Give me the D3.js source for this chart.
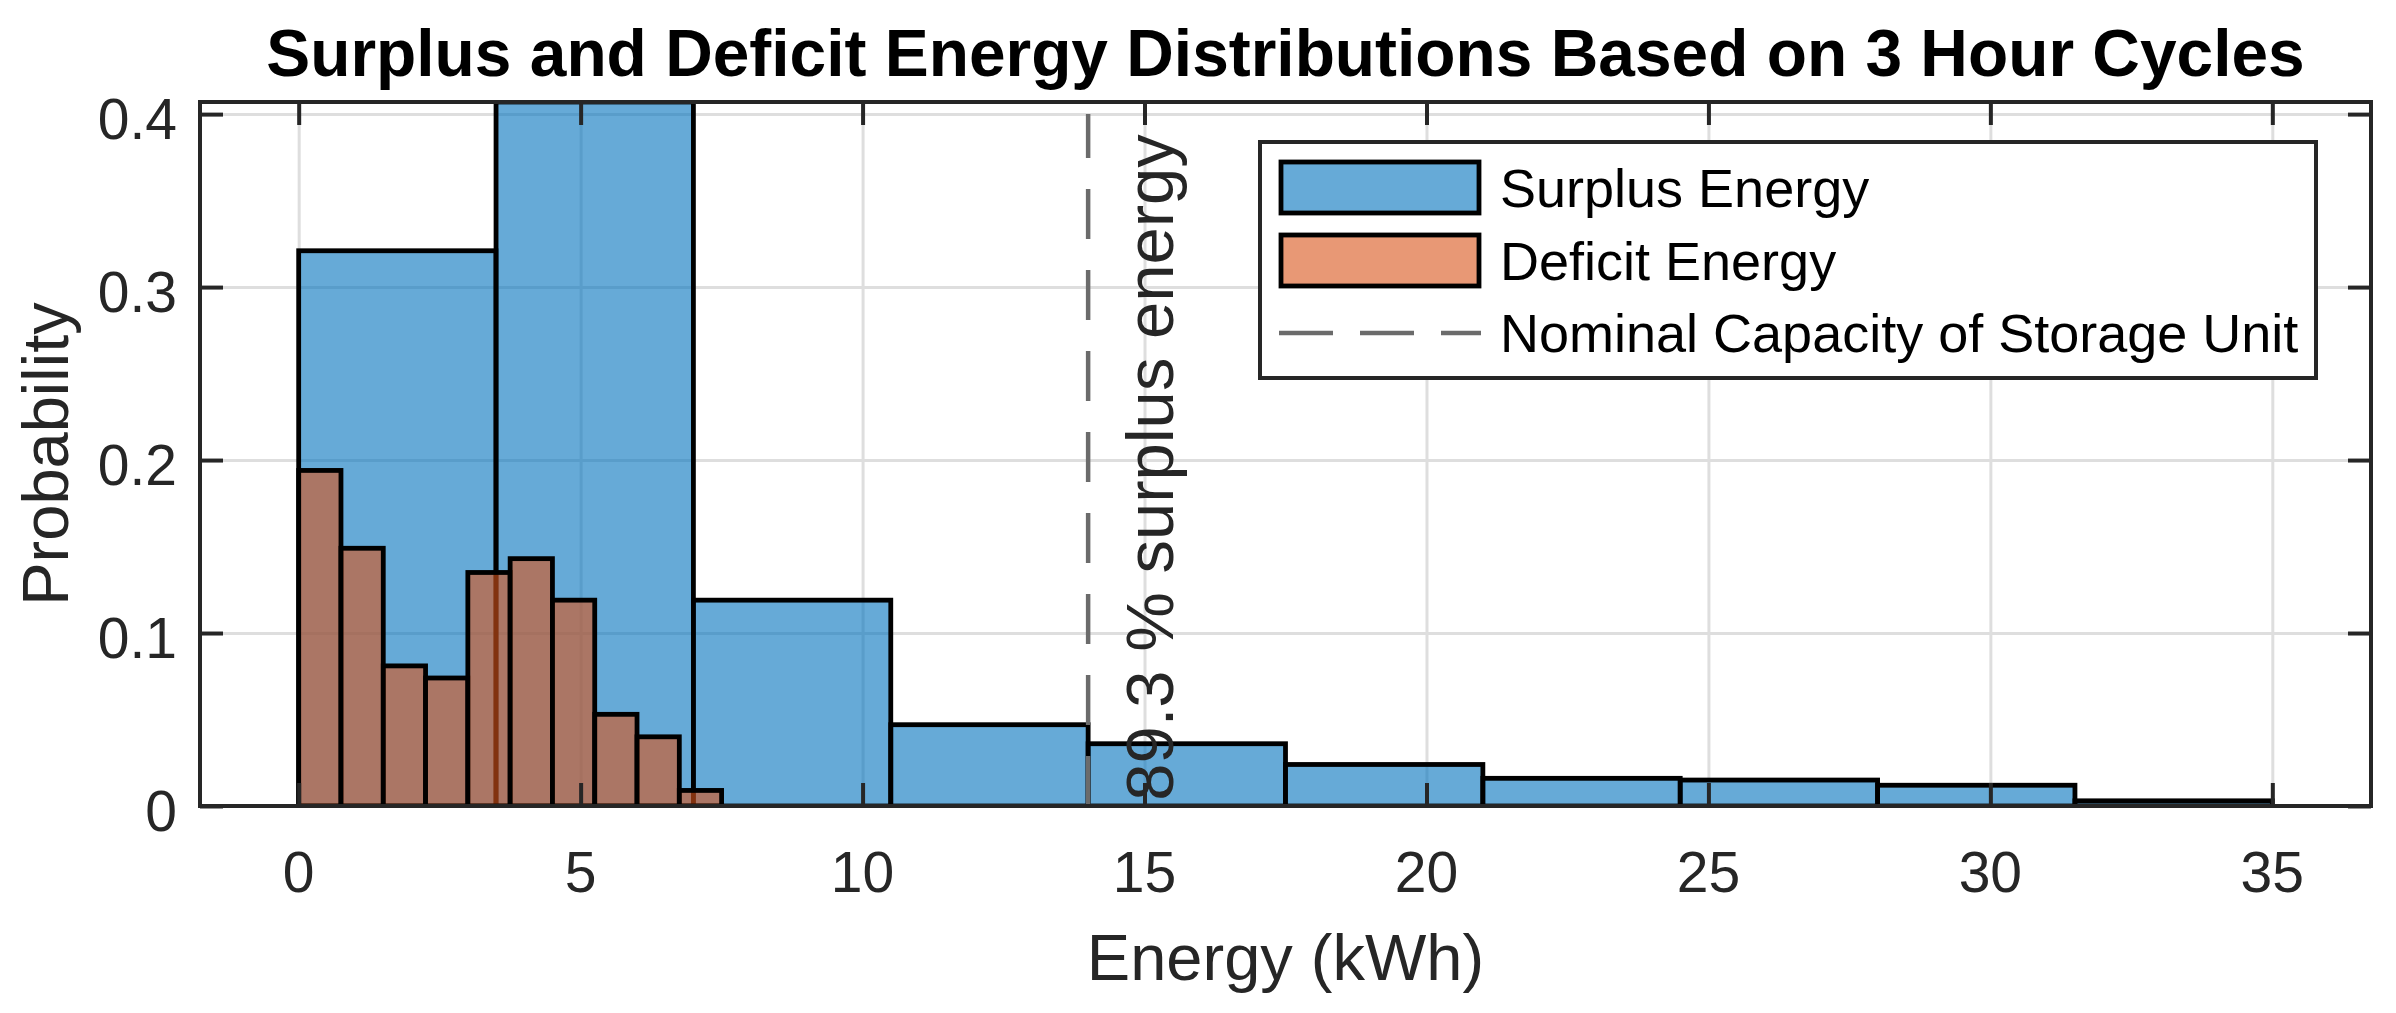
<!DOCTYPE html>
<html>
<head>
<meta charset="utf-8">
<script src="https://cdn.jsdelivr.net/npm/d3@7"></script>
<style>
  html, body { margin: 0; padding: 0; background: #fff; }
  svg { display: block; }
  text { font-family: "Liberation Sans", Arial, Helvetica, sans-serif; }
</style>
</head>
<body>
<svg id="chart" width="2396" height="1013"></svg>
<script>
// ---------------- data ----------------
const surplusEdges = [0, 3.5, 7, 10.5, 14, 17.5, 21, 24.5, 28, 31.5, 35];
const surplusProb  = [0.321, 0.407, 0.119, 0.047, 0.036, 0.024, 0.016, 0.015, 0.012, 0.003];
const deficitEdges = [0, 0.75, 1.5, 2.25, 3, 3.75, 4.5, 5.25, 6, 6.75, 7.5];
const deficitProb  = [0.194, 0.149, 0.081, 0.074, 0.135, 0.143, 0.119, 0.053, 0.040, 0.009];
const xTicks = [0, 5, 10, 15, 20, 25, 30, 35];
const yTicks = [0, 0.1, 0.2, 0.3, 0.4];
const yTickLabels = ["0", "0.1", "0.2", "0.3", "0.4"];
const nominalCapacity = 14;
const annotation = "89.3 % surplus energy";
const legendLabels = ["Surplus Energy", "Deficit Energy", "Nominal Capacity of Storage Unit"];
const titleText = "Surplus and Deficit Energy Distributions Based on 3 Hour Cycles";
const xLabel = "Energy (kWh)";
const yLabel = "Probability";

// ---------------- layout ----------------
const L = 200, R = 2371, T = 102, B = 806;
const svg = d3.select("#chart");
const x = d3.scaleLinear().domain([-1.75, 36.75]).range([L, R]);
const y = d3.scaleLinear().domain([0, 0.407]).range([B, T]);

const blue = "rgb(0,114,189)";
const orange = "rgb(217,83,25)";
const axisColor = "#262626";
const edgeW = 4.8;

svg.append("defs").append("clipPath").attr("id", "plotclip")
  .append("rect").attr("x", L).attr("y", T).attr("width", R - L).attr("height", B - T);

// grid
const gridX = svg.append("g").attr("transform", `translate(0,${B})`)
  .call(d3.axisBottom(x).tickValues(xTicks).tickSize(-(B - T)).tickFormat(""));
const gridY = svg.append("g").attr("transform", `translate(${L},0)`)
  .call(d3.axisLeft(y).tickValues(yTicks).tickSize(-(R - L)).tickFormat(""));
[gridX, gridY].forEach(g => {
  g.select(".domain").remove();
  g.selectAll("line").attr("stroke", "#dedede").attr("stroke-width", 3);
});

const plot = svg.append("g").attr("clip-path", "url(#plotclip)");

// surplus bars
plot.append("g").selectAll("rect").data(surplusProb).join("rect")
  .attr("x", (d, i) => x(surplusEdges[i]))
  .attr("width", (d, i) => x(surplusEdges[i + 1]) - x(surplusEdges[i]))
  .attr("y", d => y(d))
  .attr("height", d => y(0) - y(d))
  .attr("fill", blue).attr("fill-opacity", 0.6)
  .attr("stroke", "#000").attr("stroke-width", edgeW);

// deficit bars
plot.append("g").selectAll("rect").data(deficitProb).join("rect")
  .attr("x", (d, i) => x(deficitEdges[i]))
  .attr("width", (d, i) => x(deficitEdges[i + 1]) - x(deficitEdges[i]))
  .attr("y", d => y(d))
  .attr("height", d => y(0) - y(d))
  .attr("fill", orange).attr("fill-opacity", 0.6)
  .attr("stroke", "#000").attr("stroke-width", edgeW);

// nominal capacity line
plot.append("line")
  .attr("x1", x(nominalCapacity)).attr("x2", x(nominalCapacity))
  .attr("y1", y(0)).attr("y2", y(0.4))
  .attr("stroke", "#6b6b6b").attr("stroke-width", 4.5)
  .attr("stroke-dasharray", "50,31");

// annotation
svg.append("text")
  .attr("transform", `translate(${x(15.5)},${y(0.003)}) rotate(-90)`)
  .attr("font-size", 67).attr("fill", axisColor)
  .text(annotation);

// axes ticks (inside) on all four sides
function styleAxis(g) {
  g.select(".domain").remove();
  g.selectAll("line").attr("stroke", axisColor).attr("stroke-width", 4);
  g.selectAll("text").remove();
}
svg.append("g").attr("transform", `translate(0,${B})`)
  .call(d3.axisBottom(x).tickValues(xTicks).tickSize(-23)).call(styleAxis);
svg.append("g").attr("transform", `translate(0,${T})`)
  .call(d3.axisTop(x).tickValues(xTicks).tickSize(-23)).call(styleAxis);
svg.append("g").attr("transform", `translate(${L},0)`)
  .call(d3.axisLeft(y).tickValues(yTicks).tickSize(-23)).call(styleAxis);
svg.append("g").attr("transform", `translate(${R},0)`)
  .call(d3.axisRight(y).tickValues(yTicks).tickSize(-23)).call(styleAxis);

// frame
svg.append("rect").attr("x", L).attr("y", T).attr("width", R - L).attr("height", B - T)
  .attr("fill", "none").attr("stroke", axisColor).attr("stroke-width", 4);

// tick labels
svg.append("g").selectAll("text").data(xTicks).join("text")
  .attr("x", d => x(d)).attr("y", B + 86)
  .attr("text-anchor", "middle").attr("font-size", 57).attr("fill", axisColor)
  .text(d => d);
svg.append("g").selectAll("text").data(yTicks).join("text")
  .attr("x", L - 23).attr("y", d => y(d) + 25)
  .attr("text-anchor", "end").attr("font-size", 57).attr("fill", axisColor)
  .text((d, i) => yTickLabels[i]);

// axis labels
svg.append("text").attr("x", (L + R) / 2).attr("y", 980)
  .attr("text-anchor", "middle").attr("font-size", 65).attr("fill", axisColor)
  .text(xLabel);
svg.append("text").attr("transform", `translate(68,${(T + B) / 2}) rotate(-90)`)
  .attr("text-anchor", "middle").attr("font-size", 65).attr("fill", axisColor)
  .text(yLabel);

// title (fit to reference width)
const title = svg.append("text").attr("x", (L + R) / 2).attr("y", 76)
  .attr("text-anchor", "middle").attr("font-weight", "bold").attr("font-size", 68)
  .attr("fill", "#000").text(titleText);
const tw = title.node().getComputedTextLength();
if (tw > 0) title.attr("font-size", 68 * 2039 / tw);

// legend
const lg = svg.append("g");
lg.append("rect").attr("x", 1260).attr("y", 142).attr("width", 2316 - 1260).attr("height", 378 - 142)
  .attr("fill", "#fff").attr("stroke", axisColor).attr("stroke-width", 4);
const rowY = [187.5, 260.5, 333];
lg.append("rect").attr("x", 1281).attr("y", 162).attr("width", 198).attr("height", 51)
  .attr("fill", blue).attr("fill-opacity", 0.6).attr("stroke", "#000").attr("stroke-width", edgeW);
lg.append("rect").attr("x", 1281).attr("y", 235).attr("width", 198).attr("height", 51)
  .attr("fill", orange).attr("fill-opacity", 0.6).attr("stroke", "#000").attr("stroke-width", edgeW);
lg.append("line").attr("x1", 1279).attr("x2", 1481).attr("y1", rowY[2]).attr("y2", rowY[2])
  .attr("stroke", "#6b6b6b").attr("stroke-width", 4.5).attr("stroke-dasharray", "54,27");
lg.selectAll("text.lab").data(legendLabels).join("text").attr("class", "lab")
  .attr("x", 1500).attr("y", (d, i) => rowY[i] + 19)
  .attr("font-size", 54).attr("fill", "#000")
  .text(d => d);
</script>
</body>
</html>
